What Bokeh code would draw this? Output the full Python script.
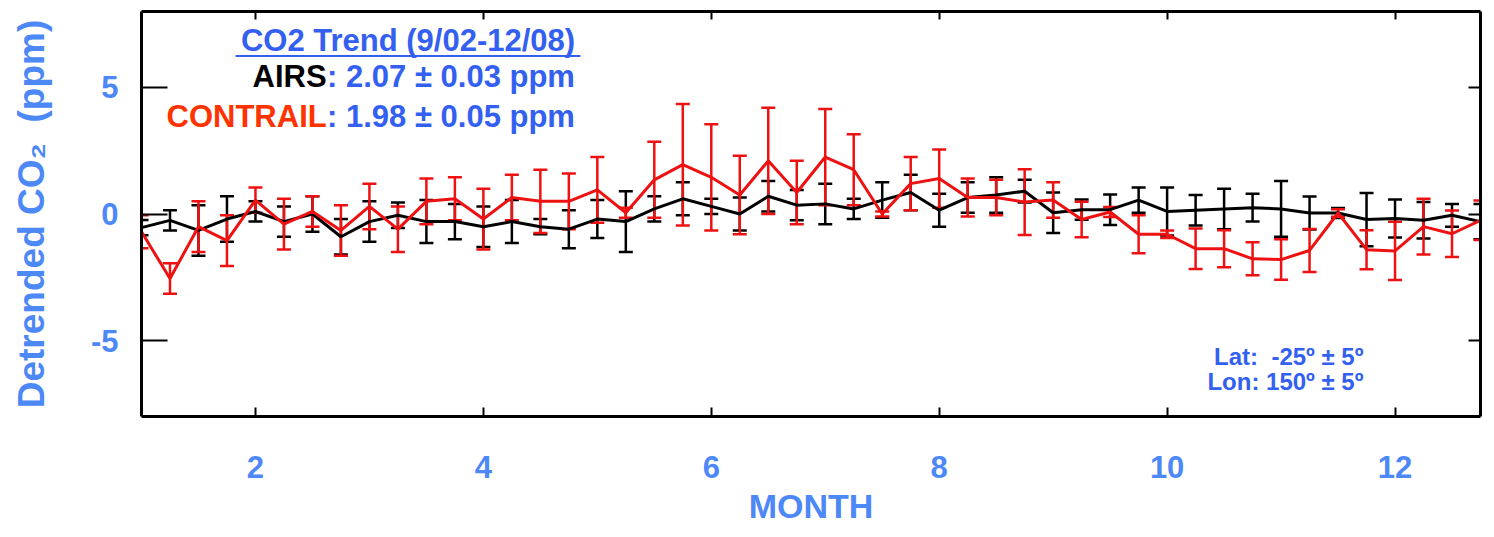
from bokeh.plotting import figure
from bokeh.models import (Range1d, LinearAxis, FixedTicker, Whisker, TeeHead,
                          ColumnDataSource, Label)
from bokeh.embed import file_html
from bokeh.resources import INLINE

# ---------------- data ----------------
month = [1.00, 1.25, 1.50, 1.75, 2.00, 2.25, 2.50, 2.75, 3.00, 3.25, 3.50, 3.75,
         4.00, 4.25, 4.50, 4.75, 5.00, 5.25, 5.50, 5.75, 6.00, 6.25, 6.50, 6.75,
         7.00, 7.25, 7.50, 7.75, 8.00, 8.25, 8.50, 8.75, 9.00, 9.25, 9.50, 9.75,
         10.00, 10.25, 10.50, 10.75, 11.00, 11.25, 11.50, 11.75, 12.00, 12.25, 12.50, 12.75]

airs = [-0.54, -0.25, -0.65, -0.20, 0.10, -0.30, 0.00, -0.90, -0.30, -0.05, -0.30, -0.30,
        -0.50, -0.30, -0.50, -0.60, -0.20, -0.30, 0.20, 0.60, 0.30, 0.00, 0.70, 0.35,
        0.40, 0.20, 0.55, 0.85, 0.15, 0.65, 0.75, 0.90, 0.05, 0.17, 0.17, 0.55,
        0.10, 0.15, 0.20, 0.25, 0.20, 0.04, 0.04, -0.22, -0.18, -0.25, -0.05, -0.30]
airs_err = [0.30, 0.40, 1.00, 0.90, 0.40, 0.60, 0.70, 0.70, 0.80, 0.50, 0.85, 0.70,
            0.80, 0.85, 0.30, 0.75, 0.75, 1.20, 0.50, 0.65, 0.30, 0.65, 0.60, 0.60,
            0.80, 0.40, 0.70, 0.70, 0.65, 0.60, 0.70, 0.45, 0.80, 0.40, 0.60, 0.50,
            0.95, 0.60, 0.80, 0.55, 1.10, 0.65, 0.20, 1.05, 0.75, 0.72, 0.45, 0.70]

contrail = [-0.70, -2.55, -0.50, -1.05, 0.55, -0.40, 0.10, -0.65, 0.30, -0.60, 0.50, 0.60,
            -0.20, 0.65, 0.50, 0.50, 0.95, 0.05, 1.35, 1.95, 1.45, 0.75, 2.10, 0.85,
            2.25, 1.75, 0.00, 1.20, 1.40, 0.65, 0.65, 0.47, 0.55, -0.22, 0.08, -0.80,
            -0.80, -1.37, -1.37, -1.77, -1.80, -1.44, 0.04, -1.41, -1.46, -0.50, -0.78, -0.25]
contrail_err = [0.65, 0.60, 1.00, 1.00, 0.50, 1.00, 0.60, 1.00, 0.90, 0.90, 0.90, 0.85,
                1.20, 0.90, 1.25, 1.10, 1.30, 0.20, 1.50, 2.40, 2.10, 1.55, 2.10, 1.25,
                1.90, 1.40, 0.10, 1.05, 1.15, 0.75, 0.70, 1.30, 0.70, 0.70, 0.20, 0.75,
                0.15, 0.80, 0.73, 0.65, 0.80, 0.85, 0.15, 0.77, 1.15, 1.10, 0.92, 0.78]

x_ticks = [2, 4, 6, 8, 10, 12]
y_ticks = [-5, 0, 5]
y_tick_labels = {-5: "-5", 0: "0", 5: "5"}

title_text = "CO2 Trend (9/02-12/08)"
airs_name = "AIRS"
airs_rate = ": 2.07 \u00b1 0.03 ppm"
con_name = "CONTRAIL"
con_rate = ": 1.98 \u00b1 0.05 ppm"
lat_text = "Lat:\u00a0 -25\u00ba \u00b1 5\u00ba"
lon_text = "Lon: 150\u00ba \u00b1 5\u00ba"
x_title = "MONTH"
y_title = "Detrended CO\u2082\u00a0 (ppm)"

# ---------------- style ----------------
FONT = "Liberation Sans"
AX_BLUE = "#4d88f7"
TXT_BLUE = "#3360f0"
RED = "#ee1111"
TXT_RED = "#ff3300"

p = figure(width=1494, height=537, output_backend="svg", toolbar_location=None,
           x_range=Range1d(1.0, 12.75), y_range=Range1d(-8, 8),
           min_border_left=141, min_border_right=14, min_border_top=11,
           min_border_bottom=121, outline_line_color=None)
p.grid.visible = False
p.background_fill_color = "white"

def style_axis(ax, major_in, minor_in, labels=True):
    ax.axis_line_width = 3
    ax.axis_line_color = "black"
    ax.major_tick_line_width = 2
    ax.minor_tick_line_width = 2
    ax.major_tick_line_color = "black"
    ax.minor_tick_line_color = "black"
    ax.major_tick_in = major_in
    ax.major_tick_out = 0
    ax.minor_tick_in = minor_in
    ax.minor_tick_out = 0
    if labels:
        ax.major_label_text_font = FONT
        ax.major_label_text_font_style = "bold"
        ax.major_label_text_font_size = "31px"
        ax.major_label_text_color = AX_BLUE
        ax.axis_label_text_font = FONT
        ax.axis_label_text_font_style = "bold"
        ax.axis_label_text_color = AX_BLUE
    else:
        ax.major_label_text_font_size = "1px"
        ax.major_label_text_color = None
        ax.major_label_standoff = 0

xb = p.xaxis[0]
xb.ticker = FixedTicker(ticks=x_ticks, num_minor_ticks=4)
style_axis(xb, 9, 5)
xb.major_label_standoff = 39
xb.axis_label = x_title
xb.axis_label_text_font_size = "34px"
xb.axis_label_standoff = 6

yl = p.yaxis[0]
yl.ticker = FixedTicker(ticks=y_ticks, num_minor_ticks=5)
style_axis(yl, 26, 13)
yl.major_label_standoff = 23
yl.major_label_overrides = y_tick_labels
yl.axis_label = y_title
yl.axis_label_text_font_size = "37px"
yl.axis_label_standoff = 36

xt = LinearAxis(ticker=FixedTicker(ticks=x_ticks, num_minor_ticks=4))
style_axis(xt, 8, 4, labels=False)
p.add_layout(xt, "above")

yr = LinearAxis(ticker=FixedTicker(ticks=y_ticks, num_minor_ticks=5))
style_axis(yr, 12, 6, labels=False)
p.add_layout(yr, "right")

# ---------------- series ----------------
src_a = ColumnDataSource(dict(x=month, y=airs,
                              lo=[v - e for v, e in zip(airs, airs_err)],
                              hi=[v + e for v, e in zip(airs, airs_err)]))
src_c = ColumnDataSource(dict(x=month, y=contrail,
                              lo=[v - e for v, e in zip(contrail, contrail_err)],
                              hi=[v + e for v, e in zip(contrail, contrail_err)]))

for src, col in ((src_a, "black"), (src_c, RED)):
    w = Whisker(base="x", lower="lo", upper="hi", source=src,
                line_color=col, line_width=2.5,
                upper_head=TeeHead(size=14, line_color=col, line_width=2.5),
                lower_head=TeeHead(size=14, line_color=col, line_width=2.5))
    p.add_layout(w)
    p.line("x", "y", source=src, line_color=col, line_width=3)

# ---------------- annotations ----------------
def label(x, y, text, size, color, align="left"):
    p.add_layout(Label(x=x, y=y, text=text, text_font=FONT, text_font_style="bold",
                       text_font_size=size, text_color=color, text_align=align,
                       text_baseline="alphabetic"))

label(3.339, 6.86, title_text, "31px", TXT_BLUE, "center")
p.segment(x0=[1.825], y0=[6.24], x1=[4.852], y1=[6.24], line_color=TXT_BLUE, line_width=2)
label(2.625, 5.44, airs_name, "31px", "black", "right")
label(2.628, 5.44, airs_rate, "31px", TXT_BLUE, "left")
label(2.625, 3.86, con_name, "31px", TXT_RED, "right")
label(2.628, 3.86, con_rate, "31px", TXT_BLUE, "left")
label(11.723, -5.63, lat_text, "24px", TXT_BLUE, "right")
label(11.723, -6.61, lon_text, "24px", TXT_BLUE, "right")

open("out.html", "w").write(file_html(p, INLINE))
